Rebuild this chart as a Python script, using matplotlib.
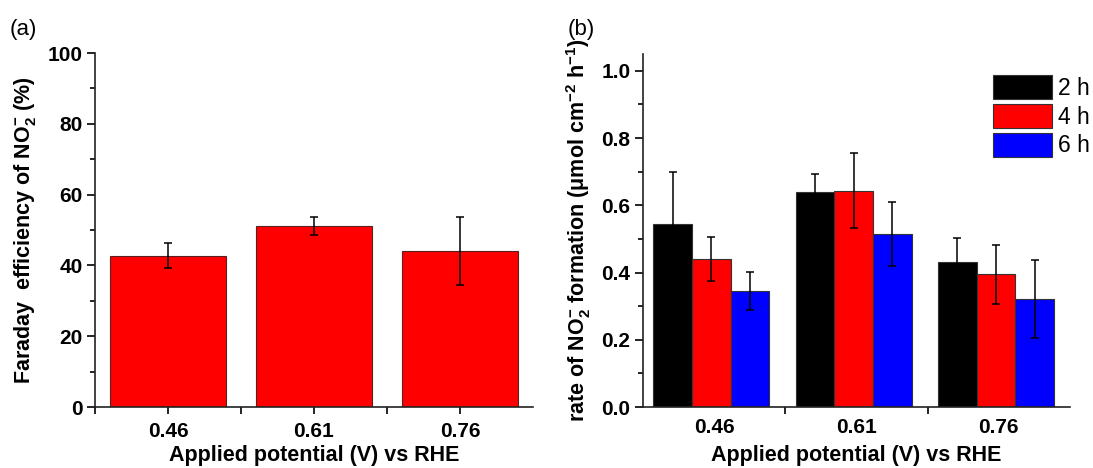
import numpy as np
import matplotlib
matplotlib.use("Agg")
import matplotlib.pyplot as plt
from matplotlib.ticker import MultipleLocator, FixedLocator, FormatStrFormatter

plt.rcParams["font.family"] = ["Liberation Sans", "DejaVu Sans"]
plt.rcParams["mathtext.fontset"] = "custom"
plt.rcParams["mathtext.rm"] = "Liberation Sans:bold"
plt.rcParams["mathtext.it"] = "Liberation Sans:bold"
plt.rcParams["mathtext.bf"] = "Liberation Sans:bold"
plt.rcParams["mathtext.default"] = "regular"

# data
potentials = ["0.46", "0.61", "0.76"]
fe_values = [42.8, 51.2, 44.2]
fe_errors = [3.4, 2.6, 9.6]

durations = ["2 h", "4 h", "6 h"]
rate_2h = [0.545, 0.641, 0.431]
rate_2h_err = [0.155, 0.051, 0.073]
rate_4h = [0.440, 0.643, 0.395]
rate_4h_err = [0.065, 0.112, 0.088]
rate_6h = [0.345, 0.515, 0.321]
rate_6h_err = [0.056, 0.096, 0.117]
colors = ["black", "red", "blue"]

fig = plt.figure(figsize=(10.93, 4.68), dpi=100)
ax1 = fig.add_axes([0.0869, 0.1303, 0.4007, 0.7564])
ax2 = fig.add_axes([0.5883, 0.1303, 0.3907, 0.7543])

TICK_FS = 15
LABEL_FS = 15.5
err_kw = dict(ecolor="black", elinewidth=1.1, capsize=2.6, capthick=1.1)


def style_axes(ax):
    for s in ["top", "right"]:
        ax.spines[s].set_visible(False)
    for s in ["left", "bottom"]:
        ax.spines[s].set_linewidth(1.2)
        ax.spines[s].set_color("#222222")
    ax.tick_params(axis="both", which="major", direction="out", length=6, width=1.2, pad=3)
    ax.tick_params(axis="both", which="minor", direction="out", length=3.5, width=1.2)
    ax.set_xlim(-0.5, 2.5)
    for lab in ax.get_yticklabels():
        lab.set_fontsize(TICK_FS)
        lab.set_fontweight("bold")


# (a) Faraday efficiency
x = np.arange(len(potentials))
ax1.bar(x, fe_values, width=0.8, color="red", edgecolor="#5a2020", linewidth=0.8,
        yerr=fe_errors, error_kw=err_kw)
ax1.set_ylim(0, 100)
ax1.yaxis.set_major_locator(MultipleLocator(20))
ax1.yaxis.set_minor_locator(MultipleLocator(10))
ax1.set_xticks(x)
ax1.xaxis.set_minor_locator(FixedLocator([-0.5, 0.5, 1.5]))
ax1.set_xticklabels(potentials, fontsize=TICK_FS, fontweight="bold")
style_axes(ax1)
ax1.tick_params(axis="x", which="major", length=5, pad=6)
ax1.tick_params(axis="x", which="minor", length=5)
ax1.set_ylabel(r"Faraday  efficiency of NO$_2^{-}$ (%)", fontsize=LABEL_FS, fontweight="bold", labelpad=7)
ax1.set_xlabel("Applied potential (V) vs RHE", fontsize=LABEL_FS, fontweight="bold", labelpad=3)

# (b) rate of formation
w = 0.272
series = [(rate_2h, rate_2h_err), (rate_4h, rate_4h_err), (rate_6h, rate_6h_err)]
for i, (vals, errs) in enumerate(series):
    ax2.bar(x + (i - 1) * w - 0.02, vals, width=w, color=colors[i], edgecolor="#333333",
            linewidth=0.8, yerr=errs, error_kw=err_kw, label=durations[i])
ax2.set_ylim(0, 1.05)
ax2.yaxis.set_major_locator(MultipleLocator(0.2))
ax2.yaxis.set_minor_locator(MultipleLocator(0.1))
ax2.yaxis.set_major_formatter(FormatStrFormatter("%.1f"))
ax2.set_xticks(x)
ax2.set_xticklabels(potentials, fontsize=TICK_FS, fontweight="bold")
ax2.xaxis.set_minor_locator(FixedLocator([0.5, 1.5]))
style_axes(ax2)
ax2.tick_params(axis="x", which="major", length=0, pad=8)
ax2.tick_params(axis="x", which="minor", length=5)
ax2.set_ylabel(r"rate of NO$_2^{-}$ formation ($\mu$mol cm$^{-2}$ h$^{-1}$)",
               fontsize=LABEL_FS, fontweight="bold", labelpad=6)
ax2.set_xlabel("Applied potential (V) vs RHE", fontsize=LABEL_FS, fontweight="bold", labelpad=6)
ax2.legend(loc="upper left", bbox_to_anchor=(0.82, 0.94), frameon=False, fontsize=16.5,
           handlelength=2.55, handleheight=1.25, labelspacing=0.17, handletextpad=0.3,
           borderpad=0, borderaxespad=0)

fig.text(0.009, 0.925, "(a)", fontsize=16)
fig.text(0.519, 0.925, "(b)", fontsize=16)

fig.savefig("out.png", dpi=100)
